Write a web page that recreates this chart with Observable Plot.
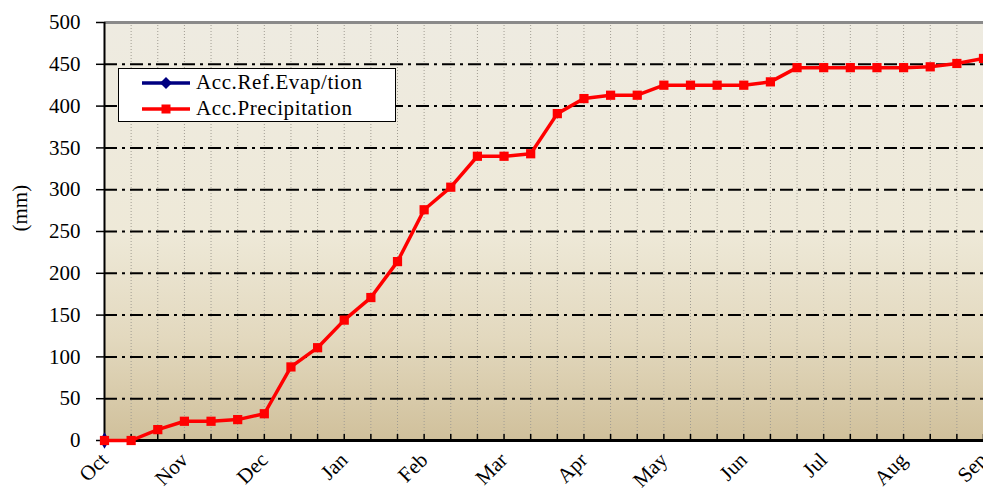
<!DOCTYPE html>
<html>
<head>
<meta charset="utf-8">
<script src="https://cdn.jsdelivr.net/npm/d3@7"></script>
<script src="https://cdn.jsdelivr.net/npm/@observablehq/plot@0.6"></script>
<style>
  html, body { margin: 0; padding: 0; background: #fff; }
  #wrap { position: relative; width: 983px; height: 493px; }
  #legend {
    position: absolute; left: 118px; top: 68px; width: 278px; height: 54px;
    box-sizing: border-box; border: 1.5px solid #000; background: #fff;
    font-family: "Liberation Serif", serif; font-size: 21px; letter-spacing: 0.6px;
  }
  .row { position: absolute; left: 0; height: 27px; display: flex; align-items: center; }
  .row svg { margin-left: 23px; margin-right: 6px; }
</style>
</head>
<body>
<div id="wrap">
  <div id="chart"></div>
  <div id="legend">
    <div class="row" style="top:0px">
      <svg width="48" height="14"><line x1="0" y1="7" x2="48" y2="7" stroke="#000080" stroke-width="3.5"/><path d="M24,1 L30,7 L24,13 L18,7 Z" fill="#000080"/></svg>
      <span>Acc.Ref.Evap/tion</span>
    </div>
    <div class="row" style="top:26px">
      <svg width="48" height="14"><line x1="0" y1="7" x2="48" y2="7" stroke="#ff0000" stroke-width="3.5"/><rect x="19.5" y="2.5" width="9" height="9" fill="#ff0000"/></svg>
      <span>Acc.Precipitation</span>
    </div>
  </div>
</div>
<script>
const months = ["Oct","Nov","Dec","Jan","Feb","Mar","Apr","May","Jun","Jul","Aug","Sep"];
const precip = [0,0,13,23,23,25,32,88,111,144,171,214,276,303,340,340,343,391,409,413,413,425,425,425,425,429,446,446,446,446,446,447,451,457];
const evap = [0];
const yTicks = [0,50,100,150,200,250,300,350,400,450,500];
const yGrid = [50,100,150,200,250,300,350,400,450];

const dekadIdx = precip.map((d, i) => i);
const monthIdx = months.map((m, i) => i * 3);

const chart = Plot.plot({
  width: 983, height: 493,
  marginLeft: 104, marginRight: 0, marginTop: 22, marginBottom: 53,
  x: {domain: [0, 33]},
  y: {domain: [0, 500]},
  style: {fontFamily: "Liberation Serif, serif", fontSize: "21px", color: "#000", background: "transparent", overflow: "hidden"},
  marks: [
    Plot.frame({fill: "url(#bgGrad)", stroke: null}),
    Plot.ruleX(dekadIdx.slice(1), {x: d => d, stroke: "#a09c92", strokeWidth: 1, strokeDasharray: "1,2"}),
    Plot.ruleY(yGrid, {y: d => d, stroke: "#000", strokeWidth: 2, strokeDasharray: "13,5,3,5"}),
    Plot.ruleY([500], {y: d => d, stroke: "#8a8a8a", strokeWidth: 3}),
    Plot.axisX({ticks: dekadIdx, tickSize: 6, dy: -6, tickFormat: () => "", strokeWidth: 1.5, label: null}),
    Plot.axisX({ticks: monthIdx, tickSize: 0, tickPadding: 16, tickRotate: -45, tickFormat: i => months[i / 3], label: null}),
    Plot.axisY({ticks: yTicks, tickSize: 8, tickPadding: 16, strokeWidth: 1.5, label: null}),
    Plot.ruleX([0], {x: d => d, stroke: "#000", strokeWidth: 2}),
    Plot.ruleY([0], {y: d => d, stroke: "#000", strokeWidth: 3}),
    Plot.text(["(mm)"], {frameAnchor: "left", dx: -84, rotate: -90, fontSize: 21}),
    Plot.dot(evap, {x: (d, i) => i, y: d => d, symbol: "diamond", fill: "#000080", r: 5}),
    Plot.line(precip, {x: (d, i) => i, y: d => d, stroke: "#ff0000", strokeWidth: 3.5}),
    Plot.dot(precip, {x: (d, i) => i, y: d => d, symbol: "square", fill: "#ff0000", r: 5.2})
  ]
});

const defs = d3.select(chart).insert("defs", ":first-child");
const grad = defs.append("linearGradient").attr("id", "bgGrad").attr("x1", 0).attr("y1", 0).attr("x2", 0).attr("y2", 1);
[[0, "#eeebe1"], [0.5, "#eee9d8"], [0.75, "#e3d9bf"], [1, "#d0c09b"]].forEach(([o, c]) => {
  grad.append("stop").attr("offset", o).attr("stop-color", c);
});

document.getElementById("chart").appendChild(chart);
</script>
</body>
</html>
